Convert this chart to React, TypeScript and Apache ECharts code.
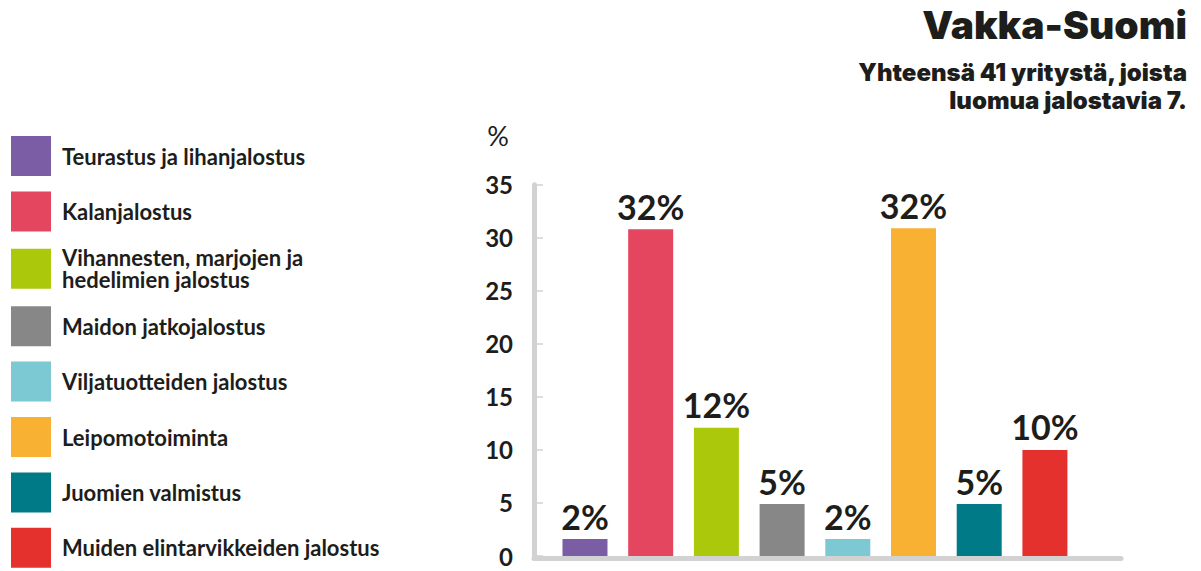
import React, { useEffect, useRef } from 'react';
import * as echarts from 'echarts';

const categories = [
  'Teurastus ja lihanjalostus',
  'Kalanjalostus',
  'Vihannesten, marjojen ja\nhedelimien jalostus',
  'Maidon jatkojalostus',
  'Viljatuotteiden jalostus',
  'Leipomotoiminta',
  'Juomien valmistus',
  'Muiden elintarvikkeiden jalostus',
];
const values = [1.6, 30.8, 12.1, 4.9, 1.6, 30.9, 4.9, 10.0];
const valueLabels = ['2%', '32%', '12%', '5%', '2%', '32%', '5%', '10%'];
const colors = ['#7B5DA6', '#E4465F', '#ABC90A', '#878787', '#7CC8D3', '#F8B133', '#007A87', '#E5312D'];

const title = 'Vakka-Suomi';
const subtitle = 'Yhteensä 41 yritystä, joista\nluomua jalostavia 7.';
const unit = '%';

const FONT = 'Lato, "Noto Sans", sans-serif';
const HEAVY = 'Inter, Lato, sans-serif';
const TEXT = '#1d1d1b';
const AXIS = '#d2d2d2';

export default function App() {
  const ref = useRef<HTMLDivElement>(null);
  useEffect(() => {
    document.body.style.margin = '0';
    const chart = echarts.init(ref.current!, undefined, { renderer: 'svg' });
    chart.setOption({
      animation: false,
      backgroundColor: '#ffffff',
      graphic: [
        {
          type: 'text',
          x: 1187,
          y: 24.7,
          style: {
            text: title,
            fill: TEXT,
            fontFamily: HEAVY,
            fontWeight: 900,
            fontSize: 39,
            align: 'right',
            verticalAlign: 'middle',
            textAlign: 'right',
            textVerticalAlign: 'middle',
          },
        },
        {
          type: 'text',
          x: 1187,
          y: 86.7,
          style: {
            text: subtitle,
            fill: TEXT,
            fontFamily: HEAVY,
            fontWeight: 900,
            fontSize: 24,
            lineHeight: 28.3,
            align: 'right',
            verticalAlign: 'middle',
            textAlign: 'right',
            textVerticalAlign: 'middle',
          },
        },
        {
          type: 'text',
          x: 498,
          y: 135,
          style: {
            text: unit,
            fill: TEXT,
            fontFamily: FONT,
            fontWeight: 'normal',
            fontSize: 27,
            align: 'center',
            verticalAlign: 'middle',
            textAlign: 'center',
            textVerticalAlign: 'middle',
          },
        },
      ],
      legend: {
        orient: 'vertical',
        left: 11,
        top: 136,
        padding: 0,
        icon: 'rect',
        itemWidth: 40,
        itemHeight: 40,
        itemGap: 15.4,
        selectedMode: false,
        data: categories,
        textStyle: {
          fontFamily: FONT,
          fontWeight: 'bold',
          fontSize: 22,
          lineHeight: 22,
          color: TEXT,
          padding: [0, 0, 0, 6],
        },
      },
      grid: { left: 534, right: 80, top: 184.7, bottom: 11.5, containLabel: false },
      xAxis: {
        type: 'value',
        min: -0.776,
        max: 8.158,
        offset: 2,
        axisLine: { show: true, onZero: false, lineStyle: { color: AXIS, width: 5 } },
        axisTick: { show: false },
        axisLabel: { show: false },
        splitLine: { show: false },
      },
      yAxis: {
        type: 'value',
        min: 0,
        max: 35,
        interval: 5,
        axisLine: { show: true, onZero: false, lineStyle: { color: AXIS, width: 5 } },
        axisTick: { show: true, inside: true, length: 9, lineStyle: { color: AXIS, width: 1.5 } },
        axisLabel: {
          margin: 21,
          fontFamily: FONT,
          fontWeight: 'bold',
          fontSize: 24,
          lineHeight: 24,
          padding: [0, 0, 6, 0],
          color: TEXT,
        },
        splitLine: { show: false },
      },
      series: categories.map((name, i) => ({
        name,
        type: 'bar',
        stack: 'all',
        barWidth: 45,
        itemStyle: { color: colors[i] },
        label: {
          show: true,
          position: 'top',
          distance: 6,
          formatter: () => valueLabels[i],
          fontFamily: FONT,
          fontWeight: 'bold',
          fontSize: 34,
          color: TEXT,
        },
        data: [[i, values[i]]],
      })),
    });
    return () => chart.dispose();
  }, []);
  return <div ref={ref} style={{ width: 1201, height: 571 }} />;
}
